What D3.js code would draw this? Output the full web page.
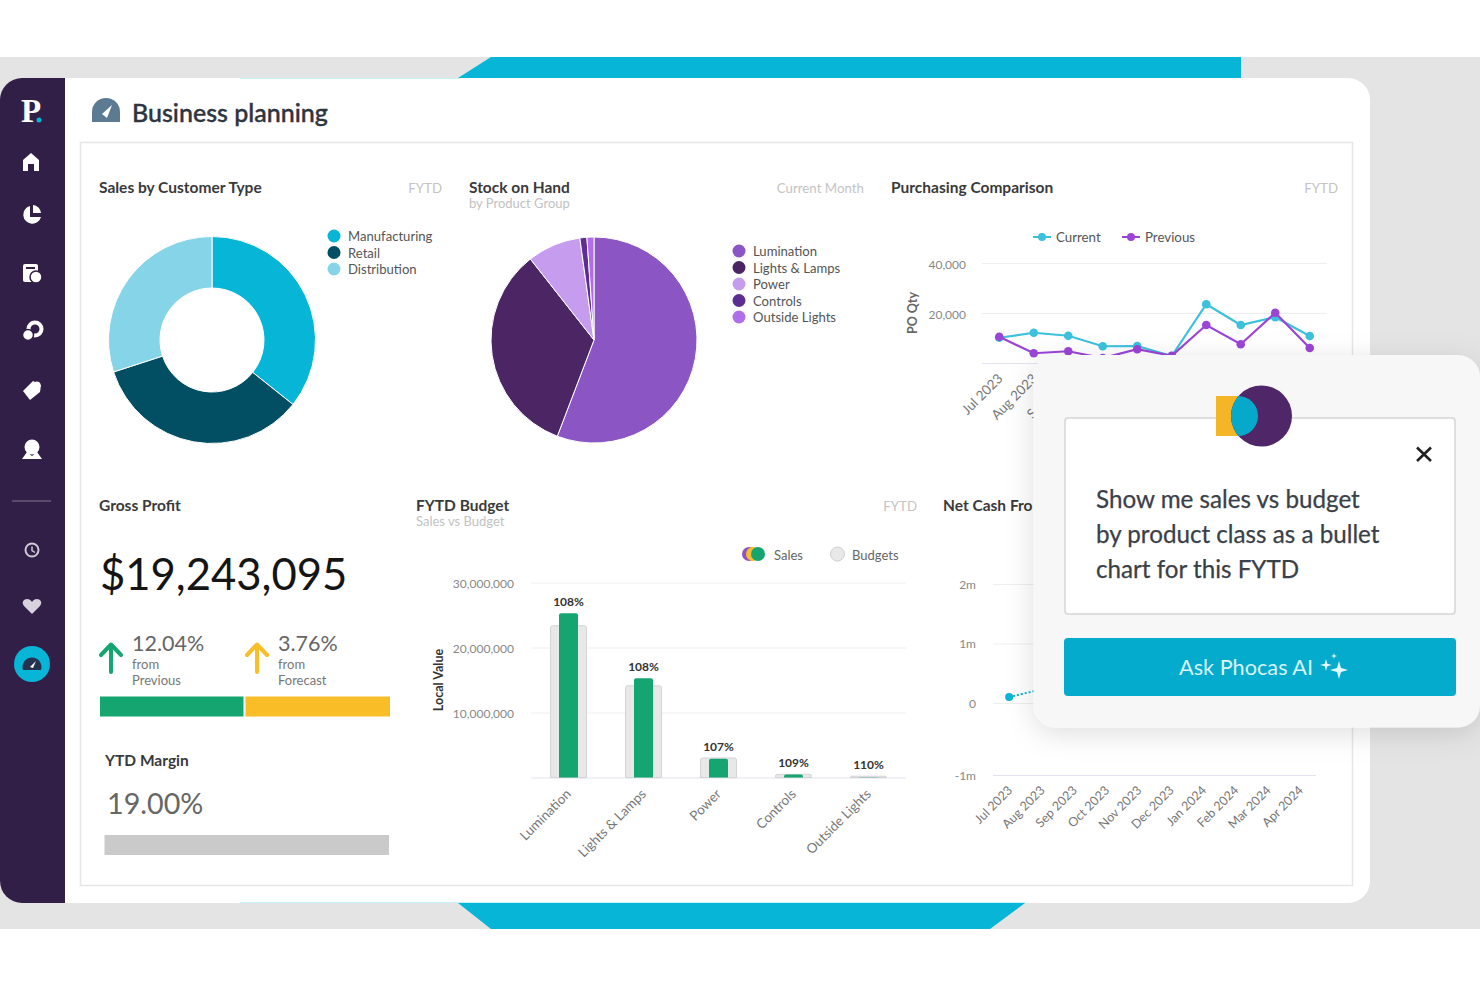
<!DOCTYPE html>
<html>
<head>
<meta charset="utf-8">
<title>Business planning</title>
<script src="https://cdn.jsdelivr.net/npm/d3@7"></script>
<style>
    html, body { margin: 0; padding: 0; background: #fff; }
    svg { display: block; }
    text { font-family: Lato, "Open Sans", sans-serif; }
    .axis .domain { display: none; }
</style>
</head>
<body>
<div id="chart"></div>
<script>
/* Phocas business planning dashboard */

// Sales by Customer Type
const customerTypes = ['Manufacturing', 'Retail', 'Distribution'];
const customerValues = [35.7, 34.3, 30];
const customerColors = ['#07b5d6', '#024f64', '#86d4e8'];

// Stock on Hand
const productGroups = ['Lumination', 'Lights & Lamps', 'Power', 'Controls', 'Outside Lights'];
const stockValues = [55.8, 33.6, 8.4, 1.1, 1.1];
const stockColors = ['#8c55c4', '#4b2564', '#c59cee', '#5c2e91', '#b06ee8'];

// Purchasing Comparison
const purchaseMonths = ['Jul 2023', 'Aug 2023', 'Sep 2023', 'Oct 2023', 'Nov 2023', 'Dec 2023', 'Jan 2024', 'Feb 2024', 'Mar 2024', 'Apr 2024'];
const purchaseCurrent = [10100, 12100, 10900, 6700, 6800, 2800, 23500, 15200, 18300, 10800];
const purchasePrevious = [10500, 3900, 4700, 2000, 5500, 2900, 15200, 7500, 20100, 6000];
const purchaseTicks = [0, 20000, 40000];

// FYTD Budget
const budgetCategories = ['Lumination', 'Lights & Lamps', 'Power', 'Controls', 'Outside Lights'];
const budgetSales = [25260000, 15260000, 2900000, 450000, 50000];
const budgetBudgets = [23350000, 14100000, 3000000, 490000, 200000];
const budgetPercents = ['108%', '108%', '107%', '109%', '110%'];
const budgetTicks = [0, 10000000, 20000000, 30000000];

// Net Cash (only the start of the line shows beside the popup)
const cashMonths = ['Jul 2023', 'Aug 2023', 'Sep 2023', 'Oct 2023', 'Nov 2023', 'Dec 2023', 'Jan 2024', 'Feb 2024', 'Mar 2024', 'Apr 2024'];
const cashValues = [0.1, 0.23];
const cashTicks = [-1, 0, 1, 2];
const cashTickLabels = ['-1m', '0', '1m', '2m'];

const svg = d3.select('#chart').append('svg')
    .attr('width', 1480)
    .attr('height', 987);

function addText(parent, x, y, str, size, color, weight, anchor) {
    return parent.append('text')
        .attr('x', x)
        .attr('y', y)
        .attr('font-size', size)
        .attr('fill', color)
        .attr('font-weight', weight || 400)
        .attr('text-anchor', anchor || 'start')
        .text(str);
}

function drawFrame() {
    const defs = svg.append('defs');
    const shadow = defs.append('filter')
        .attr('id', 'popup-shadow')
        .attr('x', '-20%').attr('y', '-20%')
        .attr('width', '140%').attr('height', '140%');
    shadow.append('feDropShadow')
        .attr('dx', 0).attr('dy', 6)
        .attr('stdDeviation', 14)
        .attr('flood-color', '#000')
        .attr('flood-opacity', 0.13);

    svg.append('rect').attr('x', 0).attr('y', 57).attr('width', 1480).attr('height', 872).attr('fill', '#e4e4e4');
    svg.append('path').attr('d', 'M458,78L491,57H1241V78Z').attr('fill', '#07b5d6');
    svg.append('path').attr('d', 'M458,903L491,929H990L1025,903Z').attr('fill', '#07b5d6');

    svg.append('rect').attr('x', 0).attr('y', 78).attr('width', 1370).attr('height', 825).attr('rx', 22).attr('fill', '#fff');
    svg.append('path').attr('d', 'M240,78.5H460M240,902.5H1025').attr('stroke', '#c9f1f8').attr('stroke-width', 1);
    svg.append('path')
        .attr('d', 'M65,78H22A22,22 0 0 0 0,100V881A22,22 0 0 0 22,903H65Z')
        .attr('fill', '#321f47');

    svg.append('rect')
        .attr('x', 80.5).attr('y', 142.5)
        .attr('width', 1272).attr('height', 743)
        .attr('fill', '#fff')
        .attr('stroke', '#e6e6e6')
        .attr('stroke-width', 1.5);

    // Header
    const gauge = svg.append('g').attr('transform', 'translate(106,112)');
    gauge.append('path').attr('d', 'M-14,10V0A14,14 0 0 1 14,0V10Z').attr('fill', '#5d7a93');
    gauge.append('path').attr('d', 'M-4,2L6,-7L1,6Z').attr('fill', '#fff');
    addText(svg, 132, 122, 'Business planning', 25, '#2e3440', 500)
        .attr('stroke', '#2e3440')
        .attr('stroke-width', 0.4);
}

function drawSidebar() {
    const side = svg.append('g').attr('fill', '#fff');

    side.append('text')
        .attr('x', 31).attr('y', 122)
        .attr('text-anchor', 'middle')
        .attr('font-size', 33)
        .attr('font-weight', 700)
        .style('font-family', '"Liberation Serif", serif')
        .attr('fill', '#fff')
        .text('P');
    side.append('circle').attr('cx', 39).attr('cy', 120).attr('r', 2.5).attr('fill', '#07b5d6');

    // Home
    side.append('path').attr('d', 'M31,153L39,160V171H34V164H28V171H23V160Z');
    // Pie
    side.append('path').attr('d', 'M30,206A9,9 0 1 0 41,217L30,217Z');
    side.append('path').attr('d', 'M33,205A9,9 0 0 1 41,213L33,213Z');
    // Report
    side.append('rect').attr('x', 23).attr('y', 264).attr('width', 15).attr('height', 18).attr('rx', 2);
    side.append('circle').attr('cx', 36).attr('cy', 277).attr('r', 6).attr('fill', '#fff').attr('stroke', '#321f47').attr('stroke-width', 1.5);
    side.append('rect').attr('x', 26).attr('y', 267).attr('width', 9).attr('height', 2).attr('fill', '#321f47');
    // Search hands
    side.append('circle').attr('cx', 35).attr('cy', 329).attr('r', 6.5).attr('fill', 'none').attr('stroke', '#fff').attr('stroke-width', 4);
    side.append('circle').attr('cx', 28).attr('cy', 335).attr('r', 5.5).attr('stroke', '#321f47').attr('stroke-width', 1.5);
    // Tag
    side.append('path').attr('d', 'M23,391L33,381L41,385L40,392L30,400Z');
    side.append('circle').attr('cx', 37).attr('cy', 385).attr('r', 3.5);
    // Person
    side.append('circle').attr('cx', 32).attr('cy', 447).attr('r', 7.5);
    side.append('path').attr('d', 'M22,459L27,452L32,456L37,452L42,459Z');

    side.append('line')
        .attr('x1', 12).attr('x2', 51).attr('y1', 501).attr('y2', 501)
        .attr('stroke', '#5a4a6c').attr('stroke-width', 2);

    // History
    side.append('circle').attr('cx', 32).attr('cy', 550).attr('r', 6.5)
        .attr('fill', 'none').attr('stroke', '#cfc9d6').attr('stroke-width', 2);
    side.append('path').attr('d', 'M32,546.5V550.5L35,552.5').attr('fill', 'none').attr('stroke', '#cfc9d6').attr('stroke-width', 1.5);
    // Heart
    side.append('path')
        .attr('d', 'M32,614L24,606C21,602 24,599 27,599C29,599 31,600 32,602C33,600 35,599 37,599C40,599 43,602 40,606Z')
        .attr('fill', '#d8d2de');

    // Active item
    side.append('circle').attr('cx', 32).attr('cy', 664).attr('r', 18).attr('fill', '#07b5d6');
    side.append('path').attr('d', 'M23,670A9.5,9.5 0 1 1 41,670Z').attr('fill', '#24324f');
    side.append('path').attr('d', 'M30,667L36,661L33,668Z').attr('fill', '#fff');
}

function drawPanelTitle(x, y, title, subtitle) {
    addText(svg, x, y, title, 15.5, '#3a3a3a', 700);
    if (subtitle) {
        addText(svg, x, y + 15, subtitle, 13, '#c2c2c2');
    }
}

function drawLegend(names, colors, dotX, firstY, stepY) {
    names.forEach((name, i) => {
        svg.append('circle')
            .attr('cx', dotX)
            .attr('cy', firstY + i * stepY)
            .attr('r', 6.5)
            .attr('fill', colors[i]);
        addText(svg, dotX + 14, firstY + i * stepY + 5, name, 13.1, '#555');
    });
}

function drawSlices(cx, cy, values, colors, innerRadius, outerRadius) {
    const pie = d3.pie().sort(null);
    const arc = d3.arc().innerRadius(innerRadius).outerRadius(outerRadius);
    svg.append('g')
        .attr('transform', `translate(${cx},${cy})`)
        .selectAll('path')
        .data(pie(values))
        .join('path')
        .attr('d', arc)
        .attr('fill', (d, i) => colors[i])
        .attr('stroke', '#fff')
        .attr('stroke-width', 1);
}

// Slanted month / category labels under a chart
function slantTicks(axisG, dx, dy, size, color) {
    axisG.selectAll('text')
        .attr('x', 0)
        .attr('y', 0)
        .attr('dy', '0.35em')
        .attr('transform', `translate(${dx},${dy}) rotate(-45)`)
        .attr('text-anchor', 'end')
        .attr('font-size', size)
        .attr('fill', color);
}

function styleAxis(axisG, size, color, labelShift) {
    axisG.classed('axis', true);
    axisG.selectAll('text').attr('font-size', size).attr('fill', color).attr('dy', labelShift);
    axisG.selectAll('line').attr('stroke', '#eeeeee');
}

function drawCustomerPanel() {
    drawPanelTitle(99, 193, 'Sales by Customer Type');
    addText(svg, 442, 193, 'FYTD', 13.3, '#c4c4c4', 400, 'end');
    drawSlices(212, 340, customerValues, customerColors, 52, 103.5);
    drawLegend(customerTypes, customerColors, 334, 236, 16.5);
}

function drawStockPanel() {
    drawPanelTitle(469, 193, 'Stock on Hand', 'by Product Group');
    addText(svg, 864, 193, 'Current Month', 13.3, '#c4c4c4', 400, 'end');
    drawSlices(594, 340, stockValues, stockColors, 0, 103);
    drawLegend(productGroups, stockColors, 739, 251, 16.5);
}

function drawPurchasingPanel() {
    drawPanelTitle(891, 193, 'Purchasing Comparison');
    addText(svg, 1338, 193, 'FYTD', 13.3, '#c4c4c4', 400, 'end');

    const x = d3.scaleBand().domain(purchaseMonths).range([982, 1327]);
    const y = d3.scaleLinear().domain([0, 40000]).range([363, 263]);

    const yAxis = svg.append('g')
        .attr('transform', 'translate(982,0)')
        .call(d3.axisLeft(y)
            .tickValues(purchaseTicks)
            .tickSize(-345)
            .tickPadding(16)
            .tickFormat(d => d === 0 ? '' : d3.format(',')(d)));
    styleAxis(yAxis, 12, '#888', '0.42em');
    yAxis.selectAll('.tick').filter(d => d === 0).select('line').attr('stroke', '#e2e3f2');

    const xAxis = svg.append('g')
        .attr('class', 'axis')
        .attr('transform', 'translate(0,363)')
        .call(d3.axisBottom(x).tickSize(0));
    slantTicks(xAxis, 1, 13, 13.5, '#777');

    addText(svg, 0, 0, 'PO Qty', 12.5, '#666', 700, 'middle')
        .attr('transform', 'translate(917,313) rotate(-90)');

    const line = d3.line()
        .x((d, i) => x(purchaseMonths[i]) + x.bandwidth() / 2)
        .y(d => y(d));

    [[purchaseCurrent, '#3cc1dc'], [purchasePrevious, '#9b45d6']].forEach(([values, color]) => {
        svg.append('path')
            .datum(values)
            .attr('d', line)
            .attr('fill', 'none')
            .attr('stroke', color)
            .attr('stroke-width', 2.2);
        svg.append('g')
            .selectAll('circle')
            .data(values)
            .join('circle')
            .attr('cx', (d, i) => x(purchaseMonths[i]) + x.bandwidth() / 2)
            .attr('cy', d => y(d))
            .attr('r', 4.3)
            .attr('fill', color);
    });

    // Legend
    [[1042, 'Current', '#3cc1dc'], [1131, 'Previous', '#9b45d6']].forEach(([lx, name, color]) => {
        svg.append('line')
            .attr('x1', lx - 9).attr('x2', lx + 9)
            .attr('y1', 237).attr('y2', 237)
            .attr('stroke', color).attr('stroke-width', 2);
        svg.append('circle').attr('cx', lx).attr('cy', 237).attr('r', 4).attr('fill', color);
        addText(svg, lx + 14, 242, name, 13.3, '#555');
    });
}

function drawGrossProfitPanel() {
    drawPanelTitle(99, 511, 'Gross Profit');
    addText(svg, 100, 590, '$19,243,095', 43.6, '#151515');

    addText(svg, 132, 651, '12.04%', 21.5, '#666');
    addText(svg, 132, 669, 'from', 13, '#777');
    addText(svg, 132, 685, 'Previous', 13, '#777');
    addText(svg, 278, 651, '3.76%', 21.5, '#666');
    addText(svg, 278, 669, 'from', 13, '#777');
    addText(svg, 278, 685, 'Forecast', 13, '#777');

    [[111, '#14a571'], [257, '#f8bd27']].forEach(([ax, color]) => {
        svg.append('path')
            .attr('d', `M${ax},672V645M${ax - 10},655L${ax},644.5L${ax + 10},655`)
            .attr('fill', 'none')
            .attr('stroke', color)
            .attr('stroke-width', 4)
            .attr('stroke-linecap', 'round')
            .attr('stroke-linejoin', 'round');
    });

    svg.append('rect').attr('x', 100).attr('y', 696.5).attr('width', 143.5).attr('height', 20).attr('fill', '#14a571');
    svg.append('rect').attr('x', 245.5).attr('y', 696.5).attr('width', 144.5).attr('height', 20).attr('fill', '#f8bd27');

    drawPanelTitle(105, 766, 'YTD Margin');
    addText(svg, 107, 814, '19.00%', 28.7, '#666');
    svg.append('rect').attr('x', 104.5).attr('y', 835).attr('width', 284.5).attr('height', 20).attr('fill', '#cacaca');
}

function drawBudgetPanel() {
    drawPanelTitle(416, 511, 'FYTD Budget', 'Sales vs Budget');
    addText(svg, 917, 511, 'FYTD', 13.3, '#c4c4c4', 400, 'end');

    const x = d3.scaleBand().domain(budgetCategories).range([531, 906]);
    const y = d3.scaleLinear().domain([0, 30000000]).range([777.5, 582.5]);

    const yAxis = svg.append('g')
        .attr('transform', 'translate(531,0)')
        .call(d3.axisLeft(y)
            .tickValues(budgetTicks)
            .tickSize(-375)
            .tickPadding(17)
            .tickFormat(d => d === 0 ? '' : d3.format(',')(d)));
    styleAxis(yAxis, 12, '#888', '0.42em');
    yAxis.selectAll('.tick').filter(d => d === 0).select('line').attr('stroke', '#e2e3f2');

    const budgetWidth = 36;
    const salesWidth = 19;
    const centre = i => x(budgetCategories[i]) + x.bandwidth() / 2;

    svg.append('g')
        .selectAll('path')
        .data(budgetBudgets)
        .join('path')
        .attr('d', (d, i) => roundedTop(centre(i) - budgetWidth / 2, y(d), budgetWidth, y(0) - y(d), 2))
        .attr('fill', '#e8e8e8')
        .attr('stroke', '#d4d4d4')
        .attr('stroke-width', 1);

    svg.append('g')
        .selectAll('path')
        .data(budgetSales)
        .join('path')
        .attr('d', (d, i) => roundedTop(centre(i) - salesWidth / 2, y(d), salesWidth, y(0) - y(d), 2))
        .attr('fill', '#14a571');

    svg.append('g')
        .selectAll('text')
        .data(budgetPercents)
        .join('text')
        .attr('x', (d, i) => centre(i))
        .attr('y', (d, i) => y(Math.max(budgetSales[i], budgetBudgets[i])) - 7)
        .attr('text-anchor', 'middle')
        .attr('font-size', 12)
        .attr('font-weight', 700)
        .attr('fill', '#333')
        .text(d => d);

    const xAxis = svg.append('g')
        .attr('class', 'axis')
        .attr('transform', 'translate(0,777.5)')
        .call(d3.axisBottom(x).tickSize(0));
    slantTicks(xAxis, 0, 14, 13.4, '#777');

    addText(svg, 0, 0, 'Local Value', 12.5, '#333', 700, 'middle')
        .attr('transform', 'translate(443,680) rotate(-90)');

    // Legend
    svg.append('circle').attr('cx', 749).attr('cy', 554).attr('r', 7).attr('fill', '#8c55c4');
    svg.append('circle').attr('cx', 753).attr('cy', 554).attr('r', 7).attr('fill', '#f8bd27');
    svg.append('circle').attr('cx', 758).attr('cy', 554).attr('r', 7).attr('fill', '#14a571');
    addText(svg, 774, 560, 'Sales', 13, '#666');
    svg.append('circle').attr('cx', 837.5).attr('cy', 554).attr('r', 7).attr('fill', '#e8e8e8').attr('stroke', '#d0d0d0');
    addText(svg, 852, 560, 'Budgets', 13, '#666');
}

function roundedTop(x, y, w, h, r) {
    const rr = Math.min(r, h);
    return `M${x},${y + h}V${y + rr}Q${x},${y} ${x + rr},${y}H${x + w - rr}Q${x + w},${y} ${x + w},${y + rr}V${y + h}Z`;
}

function drawCashPanel() {
    drawPanelTitle(943, 511, 'Net Cash Fro');

    const x = d3.scaleBand().domain(cashMonths).range([993, 1316]);
    // axis in the picture is not evenly spaced below zero
    const y = d3.scaleLinear().domain([-1, 0, 2]).range([775, 703, 584]);

    const yAxis = svg.append('g')
        .attr('transform', 'translate(993,0)')
        .call(d3.axisLeft(y)
            .tickValues(cashTicks)
            .tickSize(-323)
            .tickPadding(17)
            .tickFormat((d, i) => cashTickLabels[i]));
    styleAxis(yAxis, 12, '#888', '0.36em');
    yAxis.selectAll('.tick').filter(d => d === -1).select('line').attr('stroke', '#e2e3f2');

    const xAxis = svg.append('g')
        .attr('class', 'axis')
        .attr('transform', 'translate(0,775)')
        .call(d3.axisBottom(x).tickSize(0));
    slantTicks(xAxis, 1, 13, 12.5, '#777');

    const line = d3.line()
        .x((d, i) => x(cashMonths[i]) + x.bandwidth() / 2)
        .y(d => y(d));

    svg.append('path')
        .datum(cashValues)
        .attr('d', line)
        .attr('fill', 'none')
        .attr('stroke', '#07b5d6')
        .attr('stroke-width', 2)
        .attr('stroke-dasharray', '2,2');
    svg.append('circle')
        .attr('cx', x(cashMonths[0]) + x.bandwidth() / 2)
        .attr('cy', y(cashValues[0]))
        .attr('r', 4)
        .attr('fill', '#07b5d6');
}

function sparkle(parent, cx, cy, r) {
    const k = r * 0.22;
    parent.append('path')
        .attr('d', `M${cx},${cy - r}L${cx + k},${cy - k}L${cx + r},${cy}L${cx + k},${cy + k}L${cx},${cy + r}L${cx - k},${cy + k}L${cx - r},${cy}L${cx - k},${cy - k}Z`)
        .attr('fill', '#e6fbff');
}

function drawPopup() {
    svg.append('rect')
        .attr('x', 1033.5).attr('y', 355)
        .attr('width', 446.5).attr('height', 372.5)
        .attr('rx', 22)
        .attr('fill', '#f7f7f7')
        .attr('filter', 'url(#popup-shadow)');
    svg.append('rect')
        .attr('x', 1065).attr('y', 418)
        .attr('width', 390).attr('height', 196)
        .attr('rx', 3)
        .attr('fill', '#fff')
        .attr('stroke', '#d6d6d6')
        .attr('stroke-width', 1.5);

    // Logo
    svg.append('clipPath').attr('id', 'logo-clip')
        .append('circle').attr('cx', 1261.5).attr('cy', 416).attr('r', 30.5);
    const dShape = 'M1216,396H1238A20,20 0 0 1 1238,436H1216Z';
    svg.append('path').attr('d', dShape).attr('fill', '#f4b626');
    svg.append('circle').attr('cx', 1261.5).attr('cy', 416).attr('r', 30.5).attr('fill', '#4f2668');
    svg.append('path').attr('d', dShape).attr('fill', '#07a9cb').attr('clip-path', 'url(#logo-clip)');

    svg.append('path')
        .attr('d', 'M1417,447.5L1431,461M1431,447.5L1417,461')
        .attr('stroke', '#222').attr('stroke-width', 2.6);

    ['Show me sales vs budget', 'by product class as a bullet', 'chart for this FYTD'].forEach((str, i) => {
        addText(svg, 1096, 508 + i * 35, str, 24.2, '#3a4048')
            .attr('stroke', '#3a4048')
            .attr('stroke-width', 0.25);
    });

    svg.append('rect')
        .attr('x', 1064).attr('y', 638)
        .attr('width', 392).attr('height', 58)
        .attr('rx', 4)
        .attr('fill', '#04abcd');
    addText(svg, 1179, 675, 'Ask Phocas AI', 21.7, '#d8f6fc');
    sparkle(svg, 1339, 670, 9);
    sparkle(svg, 1326, 665, 6);
    sparkle(svg, 1334, 656, 3);
}

drawFrame();
drawSidebar();
drawCustomerPanel();
drawStockPanel();
drawPurchasingPanel();
drawGrossProfitPanel();
drawBudgetPanel();
drawCashPanel();
drawPopup();
</script>
</body>
</html>
